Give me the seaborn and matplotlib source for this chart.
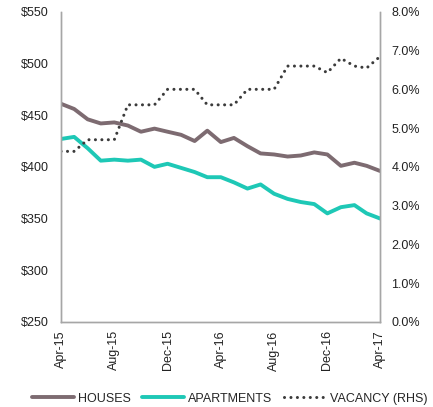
import pandas as pd
import matplotlib
matplotlib.use("Agg")
import matplotlib.pyplot as plt
import matplotlib.dates as mdates
import matplotlib.ticker as mticker
import seaborn as sns

# === Datos (mensuales, Apr-15 a Apr-17) ===
months = pd.date_range("2015-04-01", "2017-04-01", freq="MS")
houses = [461, 456, 446, 442, 443, 440, 434, 437, 434, 431, 425, 435, 424,
          428, 420, 413, 412, 410, 411, 414, 412, 401, 404, 401, 396]
apartments = [427, 429, 418, 406, 407, 406, 407, 400, 403, 399, 395, 390, 390,
              385, 379, 383, 374, 369, 366, 364, 355, 361, 363, 355, 350]
vacancy = [4.4, 4.4, 4.7, 4.7, 4.7, 5.6, 5.6, 5.6, 6.0, 6.0, 6.0, 5.6, 5.6,
           5.6, 6.0, 6.0, 6.0, 6.6, 6.6, 6.6, 6.43, 6.8, 6.6, 6.55, 6.85]

df = pd.DataFrame({"Mes": months, "HOUSES": houses,
                   "APARTMENTS": apartments, "VACANCY": vacancy})

sns.set_style("white")
plt.rcParams["font.family"] = ["Liberation Sans", "DejaVu Sans"]
plt.rcParams["font.size"] = 9

fig = plt.figure(figsize=(4.33, 4.07), dpi=100)
ax = fig.add_axes([0.141, 0.209, 0.737, 0.762])
ax2 = ax.twinx()

sns.lineplot(data=df, x="Mes", y="HOUSES", ax=ax, color="#7d6b71",
             linewidth=2.8, label="HOUSES", legend=False)
sns.lineplot(data=df, x="Mes", y="APARTMENTS", ax=ax, color="#1ec8b6",
             linewidth=2.8, label="APARTMENTS", legend=False)
sns.lineplot(data=df, x="Mes", y="VACANCY", ax=ax2, color="#3b3b3b",
             linewidth=2.2, linestyle=(0, (0.01, 2.1)), dash_capstyle="round",
             label="VACANCY (RHS)", legend=False)

# === Ejes ===
ax.set_ylim(250, 550)
ax.set_yticks(range(250, 551, 50))
ax.yaxis.set_major_formatter(mticker.FuncFormatter(lambda v, p: f"${v:.0f}"))
ax2.set_ylim(0, 8)
ax2.set_yticks(range(0, 9))
ax2.yaxis.set_major_formatter(mticker.FuncFormatter(lambda v, p: f"{v:.1f}%"))

ax.set_xlim(months[0], months[-1])
ax.set_xticks(months[::4])
ax.xaxis.set_major_formatter(mdates.DateFormatter("%b-%y"))
plt.setp(ax.get_xticklabels(), rotation=90)

ax.set_xlabel("")
ax.set_ylabel("")
ax2.set_ylabel("")

for a in (ax, ax2):
    a.spines["top"].set_visible(False)
    for s in ("left", "right", "bottom"):
        a.spines[s].set_color("#a6a6a6")
        a.spines[s].set_linewidth(1.0)
    a.tick_params(axis="y", length=0, pad=9, labelsize=9, colors="#222222")
ax2.tick_params(axis="y", pad=8)
ax.tick_params(axis="x", direction="in", length=3, color="#a6a6a6",
               labelsize=9, labelcolor="#222222", pad=6)

# === Leyenda ===
h1, l1 = ax.get_legend_handles_labels()
h2, l2 = ax2.get_legend_handles_labels()
fig.legend(h1 + h2, l1 + l2, loc="lower center", bbox_to_anchor=(0.53, -0.022),
           ncol=3, frameon=False, fontsize=9, handlelength=3.4,
           handletextpad=0.3, columnspacing=0.9)

fig.savefig("out.png", dpi=100)
